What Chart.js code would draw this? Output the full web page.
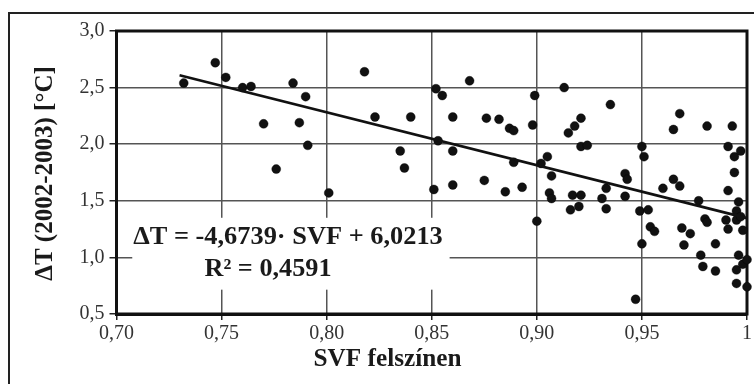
<!DOCTYPE html>
<html>
<head>
<meta charset="utf-8">
<script src="https://cdn.jsdelivr.net/npm/chart.js@4.4.0/dist/chart.umd.min.js"></script>
<style>
    html, body { margin: 0; padding: 0; background: #fff; }
    #wrap { position: relative; width: 754px; height: 384px; overflow: hidden; }
    #frame { position: absolute; left: 8px; top: 12px; width: 800px; height: 400px;
             border-left: 2px solid #222; border-top: 2px solid #222; }
    #chart { position: absolute; left: 0; top: 0; }
</style>
</head>
<body>
<div id="wrap">
    <div id="frame"></div>
    <canvas id="chart" width="754" height="384"></canvas>
</div>
<script>
// Data
const svf = [
    0.732, 0.747, 0.752, 0.760, 0.764, 0.770, 0.776, 0.784, 0.787, 0.790,
    0.791, 0.801, 0.818, 0.823, 0.835, 0.837, 0.840, 0.851, 0.852, 0.853,
    0.855, 0.860, 0.860, 0.860, 0.868, 0.875, 0.876, 0.882, 0.885, 0.887,
    0.889, 0.889, 0.893, 0.898, 0.899, 0.900, 0.902, 0.905, 0.906, 0.907,
    0.907, 0.913, 0.915, 0.916, 0.917, 0.918, 0.920, 0.921, 0.921, 0.921,
    0.924, 0.931, 0.933, 0.933, 0.935, 0.942, 0.943, 0.942, 0.947, 0.949,
    0.950, 0.950, 0.951, 0.953, 0.954, 0.956, 0.960, 0.965, 0.965, 0.968,
    0.968, 0.969, 0.970, 0.973, 0.977, 0.978, 0.979, 0.980, 0.981, 0.981,
    0.985, 0.985, 0.991, 0.991, 0.990, 0.991, 0.993, 0.994, 0.994, 0.995,
    0.995, 0.995, 0.995, 0.996, 0.996, 0.997, 0.997, 0.998, 0.998, 1.000, 1.000
];
const deltaT = [
    2.54, 2.72, 2.59, 2.50, 2.51, 2.18, 1.78, 2.54, 2.19, 2.42,
    1.99, 1.57, 2.64, 2.24, 1.94, 1.79, 2.24, 1.60, 2.49, 2.03,
    2.43, 1.94, 2.24, 1.64, 2.56, 1.68, 2.23, 2.22, 1.58, 2.14,
    2.12, 1.84, 1.62, 2.17, 2.43, 1.32, 1.83, 1.89, 1.57, 1.72,
    1.52, 2.50, 2.10, 1.42, 1.55, 2.16, 1.45, 1.55, 2.23, 1.98,
    1.99, 1.52, 1.61, 1.43, 2.35, 1.74, 1.69, 1.54, 0.63, 1.41,
    1.98, 1.12, 1.89, 1.42, 1.27, 1.23, 1.61, 2.13, 1.69, 2.27,
    1.63, 1.26, 1.11, 1.21, 1.50, 1.02, 0.92, 1.34, 2.16, 1.31,
    1.12, 0.88, 1.59, 1.98, 1.33, 1.25, 2.16, 1.89, 1.75, 1.41,
    1.33, 0.89, 0.77, 1.49, 1.02, 1.94, 1.36, 1.24, 0.94, 0.98, 0.74
];
// trend line end points
const trendX = [0.73, 1.0];
const trendY = [2.609, 1.347];

const xTicks = [0.70, 0.75, 0.80, 0.85, 0.90, 0.95, 1.00];
const yTicks = [0.5, 1.0, 1.5, 2.0, 2.5, 3.0];

const equationText = 'ΔT = -4,6739· SVF + 6,0213';
const r2Text = 'R² = 0,4591';
const xTitle = 'SVF felszínen';
const yTitle = 'ΔT (2002-2003) [°C]';

const serif = '"Liberation Serif", "Times New Roman", serif';

function fmtX(v) {
    if (Math.abs(v - 1) < 1e-9) return '1';
    return v.toFixed(2).replace('.', ',');
}
function fmtY(v) {
    return v.toFixed(1).replace('.', ',');
}

// slightly wide text, like the scanned original
function wideText(ctx, text, cx, cy, sx) {
    ctx.save();
    ctx.translate(cx, cy);
    ctx.scale(sx, 1);
    ctx.fillText(text, 0, 0);
    ctx.restore();
}

// frame, equation box and axis titles
const extras = {
    id: 'extras',
    beforeDatasetsDraw(chart) {
        const { ctx, chartArea: a, scales: { x, y } } = chart;
        ctx.save();
        // white box under the equation
        const bx1 = x.getPixelForValue(0.7075), bx2 = x.getPixelForValue(0.8585);
        const by1 = y.getPixelForValue(1.35), by2 = y.getPixelForValue(0.715);
        ctx.fillStyle = '#fff';
        ctx.fillRect(bx1, by1, bx2 - bx1, by2 - by1);
        // plot frame
        ctx.strokeStyle = '#111';
        ctx.lineWidth = 3;
        ctx.strokeRect(a.left, a.top, a.right - a.left, a.bottom - a.top);

        ctx.fillStyle = '#1a1a1a';
        ctx.textAlign = 'center';
        ctx.textBaseline = 'middle';
        ctx.font = 'bold 25px ' + serif;
        wideText(ctx, equationText, x.getPixelForValue(0.7816), y.getPixelForValue(1.171), 1.055);
        wideText(ctx, r2Text, x.getPixelForValue(0.7721), y.getPixelForValue(0.889), 1.05);

        // axis titles
        wideText(ctx, xTitle, 387.5, 360, 1.01);
        ctx.translate(46, (a.top + a.bottom) / 2 + 1);
        ctx.rotate(-Math.PI / 2);
        ctx.fillText(yTitle, 0, 0);
        ctx.restore();
    }
};

const ctx = document.getElementById('chart').getContext('2d');
new Chart(ctx, {
    type: 'scatter',
    data: {
        datasets: [
            {
                label: 'trend',
                data: trendX.map((v, i) => ({ x: v, y: trendY[i] })),
                showLine: true,
                borderColor: '#111',
                borderWidth: 2.6,
                pointRadius: 0,
                clip: false
            },
            {
                label: 'points',
                data: svf.map((v, i) => ({ x: v, y: deltaT[i] })),
                backgroundColor: '#111',
                borderColor: 'rgba(0,0,0,0.35)',
                borderWidth: 1,
                pointRadius: 4.5,
                clip: false
            }
        ]
    },
    options: {
        responsive: false,
        animation: false,
        layout: { padding: { top: 31, right: 7, left: 0, bottom: 0 } },
        plugins: {
            legend: { display: false },
            tooltip: { enabled: false }
        },
        scales: {
            x: {
                type: 'linear',
                min: 0.70,
                max: 1.00,
                afterBuildTicks: s => { s.ticks = xTicks.map(v => ({ value: v })); },
                afterFit: s => { s.height = 70; },
                grid: { color: '#555', lineWidth: 1.5, tickLength: 6, tickColor: '#222', tickWidth: 1.5 },
                border: { color: '#111', width: 3 },
                ticks: {
                    padding: 2,
                    color: '#333',
                    font: { family: serif, size: 20 },
                    callback: v => fmtX(v),
                    maxRotation: 0,
                    autoSkip: false
                }
            },
            y: {
                type: 'linear',
                min: 0.5,
                max: 3.0,
                afterBuildTicks: s => { s.ticks = yTicks.map(v => ({ value: v })); },
                afterFit: s => { s.width = 116.5; },
                grid: { color: '#555', lineWidth: 1.5, tickLength: 7, tickColor: '#222', tickWidth: 1.5 },
                border: { color: '#111', width: 3 },
                ticks: {
                    padding: 5,
                    color: '#333',
                    font: { family: serif, size: 20 },
                    callback: v => fmtY(v),
                    autoSkip: false
                }
            }
        }
    },
    plugins: [extras]
});
</script>
</body>
</html>
